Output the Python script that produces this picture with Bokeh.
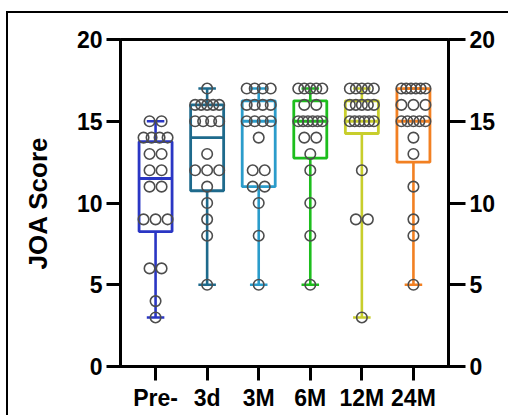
from collections import Counter
from bokeh.plotting import figure
from bokeh.models import Range1d, LinearAxis, FixedTicker, InlineStyleSheet
from bokeh.embed import file_html
from bokeh.resources import INLINE

# ---------------- data ----------------
categories = ["Pre-", "3d", "3M", "6M", "12M", "24M"]
colors = ["#2A36C4", "#1E6A8C", "#2B9CCB", "#1DBE1D", "#C8CE2C", "#F28022"]

pre_vals = [15, 15, 14, 14, 14, 14, 13, 13, 12, 12, 11, 11, 9, 9, 9, 6, 6, 4, 3]
d3_vals = [17, 16, 16, 16, 16, 16, 15, 15, 15, 15, 13, 12, 12, 12, 11, 10, 9, 8, 5]
m3_vals = [17, 17, 17, 17, 16, 16, 16, 16, 15, 15, 15, 15, 14, 12, 12, 11, 11, 10, 8, 5]
m6_vals = [17, 17, 17, 17, 17, 16, 16, 15, 15, 15, 15, 15, 15, 14, 14, 13, 12, 10, 8, 5]
m12_vals = [17, 17, 17, 17, 17, 16, 16, 16, 16, 16, 15, 15, 15, 15, 15, 15, 12, 9, 9, 3]
m24_vals = [17, 17, 17, 17, 17, 17, 16, 16, 16, 15, 15, 15, 15, 15, 14, 13, 11, 9, 8, 5]
group_values = [pre_vals, d3_vals, m3_vals, m6_vals, m12_vals, m24_vals]

whisker_min = [3, 5, 5, 5, 3, 5]
quart1 = [8.25, 10.75, 11, 12.75, 14.25, 12.5]
medians = [11.5, 14, 15, 15, 15, 15]
quart3 = [13.75, 16, 16.25, 16.25, 16.25, 17]
whisker_max = [15, 17, 17, 17, 17, 17]

y_ticks = [0, 5, 10, 15, 20]

# ---------------- figure ----------------
FONT = "Liberation Sans"
p = figure(
    frame_width=328, frame_height=327,
    min_border_left=120, min_border_right=60,
    min_border_top=39, min_border_bottom=49,
    x_range=Range1d(-0.68, 5.68), y_range=Range1d(0, 20),
    output_backend="svg", toolbar_location=None,
)
p.grid.visible = False
p.background_fill_color = "white"
p.border_fill_color = "white"
p.outline_line_color = "black"
p.outline_line_width = 3

p.stylesheets = [InlineStyleSheet(css="""
:host { position: relative; }
:host::before { content: ""; position: absolute; left: 6px; top: 11px;
  right: -20px; bottom: -20px; border-left: 2px solid #000; border-top: 2px solid #000;
  pointer-events: none; z-index: 10; }
""")]

xs = list(range(len(categories)))
half_box = 0.32
half_cap = 0.17

# whiskers
p.segment(x0=xs, y0=whisker_min, x1=xs, y1=quart1, line_color=colors, line_width=2.6)
p.segment(x0=xs, y0=quart3, x1=xs, y1=whisker_max, line_color=colors, line_width=2.6)
# caps
p.segment(x0=[x - half_cap for x in xs], y0=whisker_min, x1=[x + half_cap for x in xs],
          y1=whisker_min, line_color=colors, line_width=2.6)
p.segment(x0=[x - half_cap for x in xs], y0=whisker_max, x1=[x + half_cap for x in xs],
          y1=whisker_max, line_color=colors, line_width=2.6)
# boxes
p.quad(left=[x - half_box for x in xs], right=[x + half_box for x in xs],
       bottom=quart1, top=quart3, fill_color="white", line_color=colors, line_width=2.8)
# medians
p.segment(x0=[x - half_box for x in xs], y0=medians, x1=[x + half_box for x in xs],
          y1=medians, line_color=colors, line_width=2.8)

# points (spread horizontally within each value row)
px, py = [], []
max_step = 0.233
max_span = 0.466
for gi, vals in enumerate(group_values):
    counts = Counter(vals)
    for v, k in counts.items():
        step = max_step if k <= 1 else min(max_step, max_span / (k - 1))
        for j in range(k):
            px.append(gi + (j - (k - 1) / 2) * step)
            py.append(v)
p.scatter(px, py, marker="circle", size=10.5, fill_color=None,
          line_color="#4d4d4d", line_width=1.6)

# ---------------- axes ----------------
def style_axis(ax, tick_out):
    ax.ticker = FixedTicker(ticks=y_ticks)
    ax.axis_line_width = 3
    ax.axis_line_color = "black"
    ax.major_tick_line_width = 3
    ax.major_tick_line_color = "black"
    ax.major_tick_out = tick_out
    ax.major_tick_in = 0
    ax.minor_tick_line_color = None
    ax.major_label_text_font = FONT
    ax.major_label_text_font_style = "bold"
    ax.major_label_text_font_size = "23px"
    ax.major_label_text_color = "black"

yl = p.yaxis[0]
style_axis(yl, 14)
yl.major_label_standoff = 4
yl.axis_label = "JOA Score"
yl.axis_label_text_font = FONT
yl.axis_label_text_font_style = "bold"
yl.axis_label_text_font_size = "26px"
yl.axis_label_text_color = "black"
yl.axis_label_standoff = 21

yr = LinearAxis()
style_axis(yr, 17)
yr.major_label_standoff = 4
p.add_layout(yr, "right")

xa = p.xaxis[0]
xa.ticker = FixedTicker(ticks=xs)
xa.major_label_overrides = {i: c for i, c in enumerate(categories)}
xa.axis_line_width = 3
xa.major_tick_line_width = 3
xa.major_tick_out = 14
xa.major_tick_in = 0
xa.minor_tick_line_color = None
xa.major_label_text_font = FONT
xa.major_label_text_font_style = "bold"
xa.major_label_text_font_size = "23px"
xa.major_label_text_color = "black"
xa.major_label_standoff = 4

open("out.html", "w").write(file_html(p, INLINE))
